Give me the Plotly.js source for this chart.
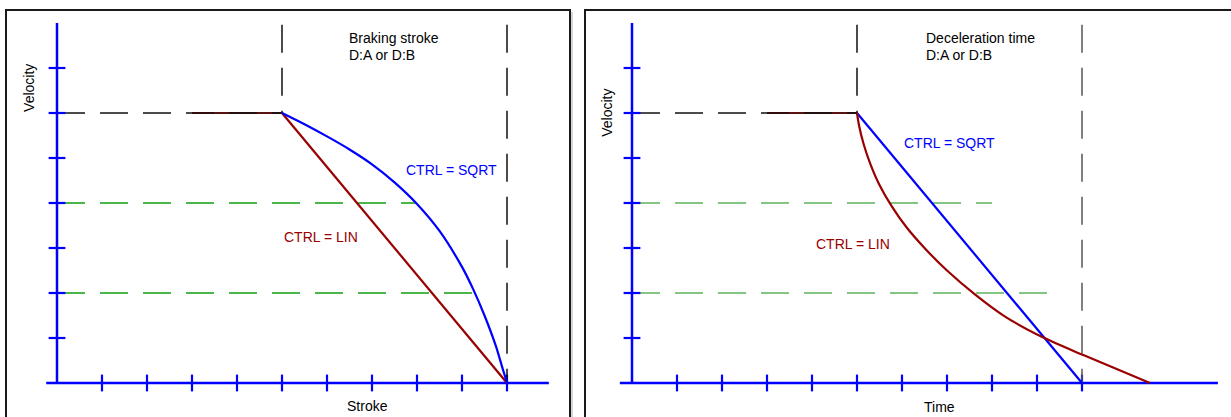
<!DOCTYPE html>
<html>
<head>
<meta charset="utf-8">
<script src="https://cdn.plot.ly/plotly-3.0.1.min.js"></script>
<style>
  html, body { margin: 0; padding: 0; background: #fff; }
  #chart { width: 1231px; height: 417px; }
</style>
</head>
<body>
<div id="chart"></div>
<script>
// ---------- data (axis units: 1 unit = one tick step) ----------
const yTicks = [1, 2, 3, 4, 5, 6, 7];
const xTicks = [1, 2, 3, 4, 5, 6, 7, 8, 9, 10];
const yAxisSpan = [0, 8];
const leftXAxisSpan = [-0.24, 10.93];
const rightXAxisSpan = [-0.27, 13.02];

const holdX = [0, 5];
const holdV = [6, 6];
const holdRedX = [3, 5];
const holdDarkX = [3.47, 5];

const greenLevels = [4, 2];
const greenEnds = [8.0, 9.23];

const markerXs = [5, 10];
const markerTop = 7.96;
const markerBottoms = [6, 0];

// Left panel: velocity vs. stroke
const strokeLinX = [5, 10];
const strokeLinV = [6, 0];
const strokeSqrtX = [5, 5.5, 6, 6.5, 7, 7.5, 8, 8.5, 9, 9.25, 9.5, 9.75, 9.9, 10];
const strokeSqrtV = [6, 5.75, 5.48, 5.19, 4.86, 4.46, 3.98, 3.38, 2.58, 2.08, 1.50, 0.83, 0.33, 0];

// Right panel: velocity vs. time
const timeSqrtT = [5, 10];
const timeSqrtV = [6, 0];
const timeLinT = [5, 5.05, 5.15, 5.3, 5.5, 5.77, 6.1, 6.5, 7, 7.62, 8.3, 9.14, 10.03, 11.51];
const timeLinV = [6, 5.7, 5.3, 4.86, 4.4, 3.93, 3.46, 3.0, 2.5, 1.97, 1.47, 1.01, 0.62, 0];

const BLUE = '#0000ff';
const RED = '#990000';
const DASH = '28px,15px';

function panel(xa, ya, xSpan, green, vcolor, curves) {
  const t = [];
  const base = { xaxis: xa, yaxis: ya, mode: 'lines', hoverinfo: 'skip', showlegend: false };
  greenLevels.forEach((lv, i) => {
    t.push(Object.assign({}, base, { x: [0, greenEnds[i]], y: [lv, lv], line: { color: green, width: 1.5, dash: DASH } }));
  });
  t.push(Object.assign({}, base, { x: holdRedX, y: holdV, line: { color: RED, width: 2.2 } }));
  t.push(Object.assign({}, base, { x: holdDarkX, y: holdV, line: { color: '#5a1212', width: 2.2 } }));
  t.push(Object.assign({}, base, { x: holdX, y: holdV, line: { color: '#111', width: 1.6, dash: DASH } }));
  t.push(Object.assign({}, base, { x: xSpan, y: [0, 0], line: { color: BLUE, width: 2.5 } }));
  t.push(Object.assign({}, base, { x: [0, 0], y: yAxisSpan, line: { color: BLUE, width: 2.5 } }));
  t.push(Object.assign({}, base, { mode: 'markers', x: xTicks, y: xTicks.map(() => 0),
    marker: { symbol: 'line-ns', size: 12, line: { color: BLUE, width: 2.2 } } }));
  t.push(Object.assign({}, base, { mode: 'markers', x: yTicks.map(() => 0), y: yTicks,
    marker: { symbol: 'line-ew', size: 12, line: { color: BLUE, width: 2.2 } } }));
  markerXs.forEach((mx, i) => {
    t.push(Object.assign({}, base, { x: [mx, mx], y: [markerTop, markerBottoms[i]],
      line: { color: i === 0 ? '#111' : vcolor, width: 1.5, dash: DASH } }));
  });
  curves.forEach(c => {
    t.push(Object.assign({}, base, { x: c.x, y: c.y, line: { color: c.color, width: 2.2, shape: c.shape || 'linear', smoothing: 0.8 } }));
  });
  return t;
}

const traces = [].concat(
  panel('x', 'y', leftXAxisSpan, '#11a011', '#111', [
    { x: strokeLinX, y: strokeLinV, color: RED },
    { x: strokeSqrtX, y: strokeSqrtV, color: BLUE, shape: 'spline' }
  ]),
  panel('x2', 'y2', rightXAxisSpan, '#5cb35c', '#555', [
    { x: timeSqrtT, y: timeSqrtV, color: BLUE },
    { x: timeLinT, y: timeLinV, color: RED, shape: 'spline' }
  ])
);

const F = { family: 'Liberation Sans, Arial, sans-serif', size: 14, color: '#000' };
function ann(xref, yref, x, y, text, opts) {
  return Object.assign({ xref: xref, yref: yref, x: x, y: y, text: text, showarrow: false,
    xanchor: 'left', yanchor: 'middle', font: Object.assign({}, F) }, opts || {});
}
const annotations = [
  ann('x', 'y', 6.44, 7.67, 'Braking stroke'),
  ann('x', 'y', 6.44, 7.29, 'D:A or D:B'),
  ann('x', 'y', 7.71, 4.73, 'CTRL = SQRT', { font: Object.assign({}, F, { color: BLUE }) }),
  ann('x', 'y', 5.0, 3.24, 'CTRL = LIN', { font: Object.assign({}, F, { color: RED }) }),
  ann('x', 'y', 6.91, -0.51, 'Stroke', { xanchor: 'center' }),
  ann('x', 'y', -0.62, 6.56, 'Velocity', { xanchor: 'center', textangle: -90 }),
  ann('x2', 'y2', 6.49, 7.67, 'Deceleration time'),
  ann('x2', 'y2', 6.49, 7.29, 'D:A or D:B'),
  ann('x2', 'y2', 6.0, 5.33, 'CTRL = SQRT', { font: Object.assign({}, F, { color: BLUE }) }),
  ann('x2', 'y2', 4.05, 3.09, 'CTRL = LIN', { font: Object.assign({}, F, { color: RED }) }),
  ann('x2', 'y2', 6.84, -0.53, 'Time', { xanchor: 'center' }),
  ann('x2', 'y2', -0.56, 6.0, 'Velocity', { xanchor: 'center', textangle: -90 })
];

const W = 1231, H = 417;
const shapes = [
  { type: 'rect', xref: 'paper', yref: 'paper', x0: 6 / W, x1: 570 / W, y0: -0.2, y1: 1 - 10 / H,
    line: { color: '#1a1a1a', width: 2 }, layer: 'below' },
  { type: 'line', xref: 'paper', yref: 'paper', x0: 572 / W, x1: 572 / W, y0: -0.2, y1: 1 - 12 / H,
    line: { color: '#c8c8c8', width: 1.5 }, layer: 'below' },
  { type: 'rect', xref: 'paper', yref: 'paper', x0: 585 / W, x1: 1.2, y0: -0.2, y1: 1 - 10 / H,
    line: { color: '#1a1a1a', width: 2 }, layer: 'below' }
];

const hidden = { visible: false, showgrid: false, zeroline: false, fixedrange: true };
const layout = {
  width: W, height: H,
  margin: { l: 0, r: 0, t: 0, b: 0 },
  paper_bgcolor: '#fff', plot_bgcolor: 'rgba(0,0,0,0)',
  showlegend: false,
  xaxis: Object.assign({}, hidden, { domain: [0, 577 / W], range: [-57 / 45, 520 / 45], anchor: 'y' }),
  yaxis: Object.assign({}, hidden, { domain: [0, 1], range: [-34 / 45, 383 / 45], anchor: 'x' }),
  xaxis2: Object.assign({}, hidden, { domain: [577 / W, 1], range: [-55 / 45, 599 / 45], anchor: 'y2' }),
  yaxis2: Object.assign({}, hidden, { domain: [0, 1], range: [-34 / 45, 383 / 45], anchor: 'x2' }),
  annotations: annotations,
  shapes: shapes
};

Plotly.newPlot('chart', traces, layout, { staticPlot: true, displayModeBar: false });
</script>
</body>
</html>
